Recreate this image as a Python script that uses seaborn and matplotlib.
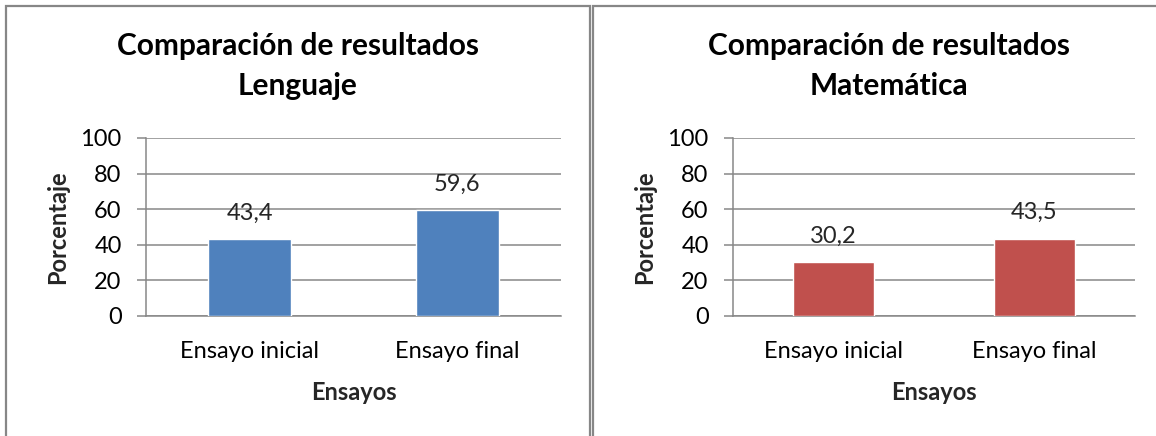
import numpy as np
import pandas as pd
import matplotlib
matplotlib.use("Agg")
import matplotlib.pyplot as plt
from matplotlib.patches import Rectangle
import seaborn as sns

categories = ["Ensayo inicial", "Ensayo final"]
lenguaje = [43.4, 59.6]
matematica = [30.2, 43.5]
yticks = [0, 20, 40, 60, 80, 100]

sns.set_theme(style="white")
plt.rcParams["font.family"] = ["Lato", "DejaVu Sans"]

W, H = 1156, 436
fig = plt.figure(figsize=(W / 100, H / 100), dpi=100)
grey = "#878787"

# panel borders (pixels -> figure fraction)
def px_rect(x0, y0, x1, y1):
    return Rectangle((x0 / W, 1 - y1 / H), (x1 - x0) / W, (y1 - y0) / H,
                     transform=fig.transFigure, fill=False, edgecolor=grey,
                     linewidth=1.6, zorder=0)

fig.patches.append(px_rect(6, 6, 590, 450))
fig.patches.append(px_rect(593, 6, 1200, 450))

panels = [
    dict(vals=lenguaje, color="#4F81BD", ax=(146, 561), title="Lenguaje", cx=298, ylx=58),
    dict(vals=matematica, color="#C0504D", ax=(733, 1135), title="Matemática", cx=889, ylx=645),
]

for p in panels:
    x0, x1 = p["ax"]
    ax = fig.add_axes([x0 / W, 1 - 316 / H, (x1 - x0) / W, 178 / H])
    df = pd.DataFrame({"Ensayos": categories, "Porcentaje": p["vals"]})
    sns.barplot(data=df, x="Ensayos", y="Porcentaje", color=p["color"],
                width=0.4, saturation=1, ax=ax, zorder=3)
    ax.set_ylim(0, 100)
    ax.set_xlim(-0.5, 1.5)
    ax.set_yticks(yticks)
    ax.yaxis.grid(True, color=grey, linewidth=1.1)
    ax.set_axisbelow(True)
    for s in ["top", "right"]:
        ax.spines[s].set_visible(False)
    for s in ["left", "bottom"]:
        ax.spines[s].set_color(grey)
        ax.spines[s].set_linewidth(1.1)
    ax.tick_params(axis="y", length=6.5, width=1.1, color=grey, labelsize=17,
                   pad=11, left=True, labelcolor="black")
    ax.tick_params(axis="x", length=0, labelsize=17, pad=18, labelcolor="black")
    labels = [f"{v:.1f}".replace(".", ",") for v in p["vals"]]
    ax.bar_label(ax.containers[0], labels=labels, padding=11, fontsize=17)
    ax.set_ylabel("Porcentaje", fontsize=17, fontweight="bold")
    ax.yaxis.set_label_coords((p["ylx"] - x0) / (x1 - x0), 0.5)
    ax.yaxis.label.set_va("center")
    ax.set_xlabel("Ensayos", fontsize=17, fontweight="bold")
    ax.xaxis.set_label_coords(0.5, (316 - 392) / 178)
    ax.xaxis.label.set_va("center")
    fig.text(p["cx"] / W, 1 - 55 / H, "Comparación de resultados", ha="center",
             va="baseline", fontsize=21.5, fontweight="bold", color="black")
    fig.text(p["cx"] / W, 1 - 95 / H, p["title"], ha="center",
             va="baseline", fontsize=21.5, fontweight="bold", color="black")

fig.savefig("out.png", dpi=100)
